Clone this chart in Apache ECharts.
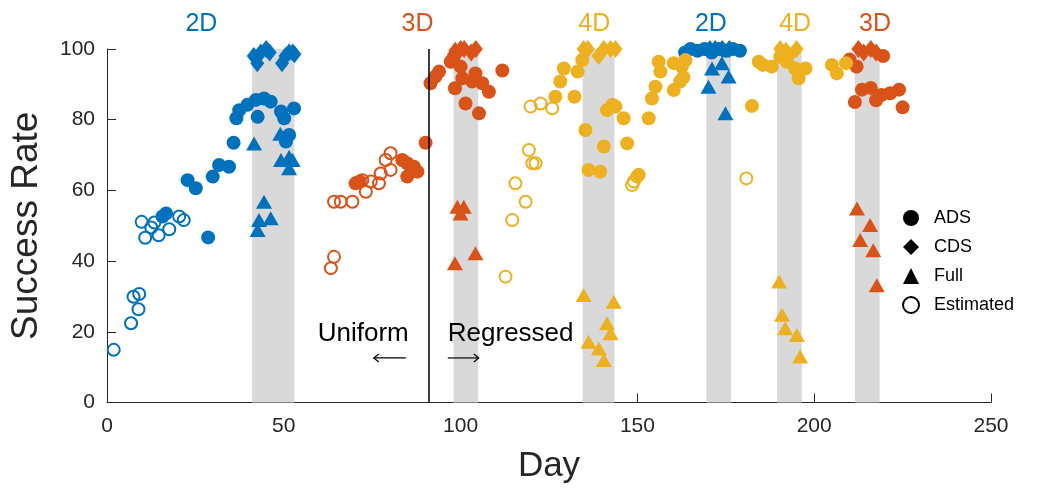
<!DOCTYPE html>
<html>
<head>
<meta charset="utf-8">
<script src="https://cdn.jsdelivr.net/npm/echarts@6/dist/echarts.min.js"></script>
<style>
  html, body { margin: 0; padding: 0; background: #fff; }
  #chart { width: 1039px; height: 491px; }
</style>
</head>
<body>
<div id="chart"></div>
<script>
// [day, success rate]
const blueAds = [[15.7,52.6],[16.7,53.5],[22.8,62.9],[25.1,60.6],[28.6,46.7],[29.9,63.9],[31.7,67.2],[34.5,66.7],[35.8,73.5],[36.6,80.4],[37.4,82.7],[39.7,84.2],[42.1,85.6],[44.4,86],[46.3,85.1],[42.6,80.8],[49.2,82.3],[50.1,80.4],[52.9,83.2],[51.5,75.7],[50.6,73.8],[163.5,99],[165,100],[167,99.5],[169,100],[171,99],[173,100],[175,99.5],[177,100],[179,99.5]];
const blueCds = [[41.5,98],[42.5,96],[43.5,99],[45,100],[46,99],[49.5,96],[50.5,98],[51.5,99],[52.5,99],[53,98.5],[170.5,100],[172,100],[174,100],[176,100]];
const blueFull = [[41.6,73.3],[49,76],[49.2,68.6],[51.5,69.5],[52.5,68.6],[51.5,66.3],[44.4,56.8],[43,51.6],[46.3,52.1],[42.6,48.8],[170.1,89.3],[171.1,94.5],[173.9,96],[175.8,92.2],[174.9,81.8]];
const blueEst = [[1.9,14.9],[6.8,22.4],[7.5,29.9],[9.1,30.7],[8.9,26.4],[9.8,51.1],[10.8,46.6],[12.5,49.5],[13.4,50.9],[14.6,47.3],[17.6,49],[20.4,52.6],[21.7,51.6]];

const orangeAds = [[70.3,62],[71.5,62.5],[83.5,68.6],[84.9,67.7],[86.8,66.7],[84.9,63.9],[87.8,65.3],[90.1,73.5],[91.5,90.3],[92.9,92.2],[93.9,93.6],[97.2,96.4],[98.1,97.8],[100,95],[98.4,88.9],[100.5,91.7],[101.4,84.6],[104.2,93.1],[105.2,81.8],[106.1,90.3],[108,87.9],[111.8,93.9],[103.3,90.8],[210,97],[212,95],[219.5,98],[211.5,85],[213.5,88.5],[216,89],[217.5,85.5],[219,87],[221.5,87.5],[224,88.5],[225,83.5]];
const orangeCds = [[97.5,97],[98.5,99.5],[100,100],[101,100],[103,99],[104.3,100],[212.5,100],[214,99],[216,100],[217.5,99]];
const orangeFull = [[99.1,55.4],[100.9,55.4],[100,53.5],[98.4,39.4],[104.2,42.2],[212.1,54.9],[215.8,50.2],[213,46],[216.7,43.1],[217.7,33.2]];
const orangeEst = [[63.3,38],[64.2,41.2],[64.2,56.8],[66.1,56.8],[69.4,56.8],[72.2,62.9],[73.2,59.6],[74.6,62.5],[76.9,62],[77.4,64.8],[78.8,68.6],[80.2,70.5],[80.2,65.8]];

const yellowAds = [[126.8,86.5],[128.2,90.8],[129.2,94.5],[132.2,86.5],[133.1,93.6],[134.4,96.9],[135.3,77.1],[136.2,65.8],[139.5,65.3],[140.5,72.4],[141.4,82.7],[142.9,84.2],[143.8,83.7],[146.1,80.4],[147.1,73.3],[150.4,64.4],[153.2,80.4],[154.1,86],[155.1,89.3],[156,96.4],[156.5,93.6],[160.3,96],[160.3,88.4],[162.1,90.8],[162.6,95],[163,92],[163.6,96.9],[182.4,83.9],[184.3,96.4],[185.5,95.5],[188,95],[190.4,97.8],[192.3,96.4],[194.6,94.5],[195.6,91.7],[197.5,94.5],[205,95.5],[206.4,93.1],[209,96]];
const yellowCds = [[134.8,100],[136,100],[139,98],[140.5,100],[142.4,100],[143.8,100],[190.4,100],[192,99.5],[193,98],[195,100]];
const yellowFull = [[134.8,30.4],[143.3,28.5],[141.4,22.4],[142.4,19.6],[136.2,17.2],[139.1,15.3],[140.5,12],[190.1,34.2],[190.9,24.8],[191.8,21],[195.1,19.1],[196,13]];
const yellowEst = [[119.8,83.7],[122.6,84.6],[125.9,83.2],[119.3,71.4],[120.3,67.7],[121.2,67.7],[115.5,62],[118.4,56.8],[114.6,51.6],[112.7,35.6],[148.5,61.5],[149,62.5],[149.9,63.9],[180.8,63.4]];

// grey test windows
const bandStarts = [41, 98, 134.5, 169.5, 189.5, 211.5];
const bandEnds = [53, 105, 143.5, 176.5, 196.5, 218.5];
const dividerDay = 91;

const phaseLabels = ['2D', '3D', '4D', '2D', '4D', '3D'];
const phaseDays = [26.7, 87.8, 137.8, 170.8, 194.6, 217.2];
const phaseColors = ['blue', 'orange', 'yellow', 'blue', 'yellow', 'orange'];

const legendNames = ['ADS', 'CDS', 'Full', 'Estimated'];

const COLORS = { blue: '#0072BD', orange: '#D95319', yellow: '#EDB120' };
const AXIS_COLOR = '#262626';
const FONT = 'Liberation Sans, Arial, sans-serif';

const makeSeries = (name, data, color, kind) => {
  const s = { name, type: 'scatter', data, silent: true, animation: false, z: 3 };
  if (kind === 'ads') {
    s.symbol = 'circle';
    s.symbolSize = 14;
    s.itemStyle = { color: color, opacity: 1 };
  } else if (kind === 'cds') {
    s.symbol = 'diamond';
    s.symbolSize = [14, 18];
    s.itemStyle = { color: color, opacity: 1 };
  } else if (kind === 'full') {
    s.symbol = 'triangle';
    s.symbolSize = [16, 14];
    s.itemStyle = { color: color, opacity: 1 };
  } else {
    s.symbol = 'circle';
    s.symbolSize = 12;
    s.itemStyle = { color: 'rgba(0,0,0,0)', borderColor: color, borderWidth: 2, opacity: 1 };
  }
  return s;
};

const chart = echarts.init(document.getElementById('chart'));

const series = [
  {
    name: 'bands',
    type: 'scatter',
    data: [],
    silent: true,
    z: 1,
    markArea: {
      silent: true,
      itemStyle: { color: '#d9d9d9' },
      data: bandStarts.map((s, i) => [{ xAxis: s, yAxis: 0 }, { xAxis: bandEnds[i], yAxis: 100 }]),
    },
    markLine: {
      silent: true,
      symbol: ['none', 'none'],
      label: { show: false },
      lineStyle: { color: '#000', width: 1.5, type: 'solid' },
      data: [[{ coord: [dividerDay, 0] }, { coord: [dividerDay, 100] }]],
    },
  },
  makeSeries('blueAds', blueAds, COLORS.blue, 'ads'),
  makeSeries('blueCds', blueCds, COLORS.blue, 'cds'),
  makeSeries('blueFull', blueFull, COLORS.blue, 'full'),
  makeSeries('blueEst', blueEst, COLORS.blue, 'est'),
  makeSeries('orangeAds', orangeAds, COLORS.orange, 'ads'),
  makeSeries('orangeCds', orangeCds, COLORS.orange, 'cds'),
  makeSeries('orangeFull', orangeFull, COLORS.orange, 'full'),
  makeSeries('orangeEst', orangeEst, COLORS.orange, 'est'),
  makeSeries('yellowAds', yellowAds, COLORS.yellow, 'ads'),
  makeSeries('yellowCds', yellowCds, COLORS.yellow, 'cds'),
  makeSeries('yellowFull', yellowFull, COLORS.yellow, 'full'),
  makeSeries('yellowEst', yellowEst, COLORS.yellow, 'est'),
  // legend-only series (black markers)
  makeSeries(legendNames[0], [], '#000', 'ads'),
  makeSeries(legendNames[1], [], '#000', 'cds'),
  makeSeries(legendNames[2], [], '#000', 'full'),
  makeSeries(legendNames[3], [], '#000', 'est'),
];

const option = {
  animation: false,
  backgroundColor: '#fff',
  grid: { left: 106, right: 48, top: 49, bottom: 88.5 },
  legend: {
    data: [
      { name: 'ADS', icon: 'circle' },
      { name: 'CDS', icon: 'diamond' },
      { name: 'Full', icon: 'triangle' },
      { name: 'Estimated', icon: 'circle' },
    ],
    orient: 'vertical',
    left: 897,
    top: 204,
    itemWidth: 16,
    itemHeight: 16,
    itemGap: 11,
    symbolKeepAspect: true,
    selectedMode: false,
    textStyle: { fontFamily: FONT, fontSize: 18, color: '#000', padding: [0, 0, 0, 10] },
  },
  xAxis: {
    type: 'value',
    min: 0,
    max: 250,
    interval: 50,
    name: 'Day',
    nameLocation: 'middle',
    nameGap: 46,
    nameTextStyle: { fontFamily: FONT, fontSize: 35, color: AXIS_COLOR },
    axisLine: { show: true, lineStyle: { color: AXIS_COLOR, width: 1 } },
    axisTick: { show: true, inside: true, length: 9, lineStyle: { color: AXIS_COLOR } },
    axisLabel: { fontFamily: FONT, fontSize: 21, color: AXIS_COLOR, margin: 13 },
    splitLine: { show: false },
  },
  yAxis: {
    type: 'value',
    min: 0,
    max: 100,
    interval: 20,
    name: 'Success Rate',
    nameLocation: 'middle',
    nameGap: 62,
    nameTextStyle: { fontFamily: FONT, fontSize: 37, color: AXIS_COLOR },
    axisLine: { show: true, lineStyle: { color: AXIS_COLOR, width: 1 } },
    axisTick: { show: true, inside: true, length: 9, lineStyle: { color: AXIS_COLOR } },
    axisLabel: { fontFamily: FONT, fontSize: 21, color: AXIS_COLOR, margin: 12 },
    splitLine: { show: false },
  },
  series,
};

chart.setOption(option);

// annotations placed from data coordinates
const px = (x, y) => chart.convertToPixel({ xAxisIndex: 0, yAxisIndex: 0 }, [x, y]);
const graphics = [];
phaseLabels.forEach((t, i) => {
  const p = px(phaseDays[i], 107);
  graphics.push({
    type: 'text',
    x: p[0],
    y: p[1],
    z: 100,
    silent: true,
    style: {
      text: t,
      fill: COLORS[phaseColors[i]],
      font: '25px ' + FONT,
      textAlign: 'center',
      textVerticalAlign: 'middle',
    },
  });
});

const div = px(dividerDay, 19.4);
graphics.push({
  type: 'text', x: div[0] - 20, y: div[1], z: 100, silent: true,
  style: { text: 'Uniform', fill: '#000', font: '26px ' + FONT, textAlign: 'right', textVerticalAlign: 'middle' },
});
graphics.push({
  type: 'text', x: div[0] + 19, y: div[1], z: 100, silent: true,
  style: { text: 'Regressed', fill: '#000', font: '26px ' + FONT, textAlign: 'left', textVerticalAlign: 'middle' },
});
const arrowY = px(dividerDay, 12.6)[1];
const lx = div[0];
// left arrow (Uniform)
graphics.push({ type: 'line', z: 100, silent: true, shape: { x1: lx - 55, y1: arrowY, x2: lx - 23, y2: arrowY }, style: { stroke: '#000', lineWidth: 1.2 } });
graphics.push({ type: 'polyline', z: 100, silent: true, shape: { points: [[lx - 50, arrowY - 4], [lx - 55, arrowY], [lx - 50, arrowY + 4]] }, style: { stroke: '#000', lineWidth: 1.2, fill: null } });
// right arrow (Regressed)
graphics.push({ type: 'line', z: 100, silent: true, shape: { x1: lx + 19, y1: arrowY, x2: lx + 50, y2: arrowY }, style: { stroke: '#000', lineWidth: 1.2 } });
graphics.push({ type: 'polyline', z: 100, silent: true, shape: { points: [[lx + 45, arrowY - 4], [lx + 50, arrowY], [lx + 45, arrowY + 4]] }, style: { stroke: '#000', lineWidth: 1.2, fill: null } });

chart.setOption({ graphic: graphics });
</script>
</body>
</html>
